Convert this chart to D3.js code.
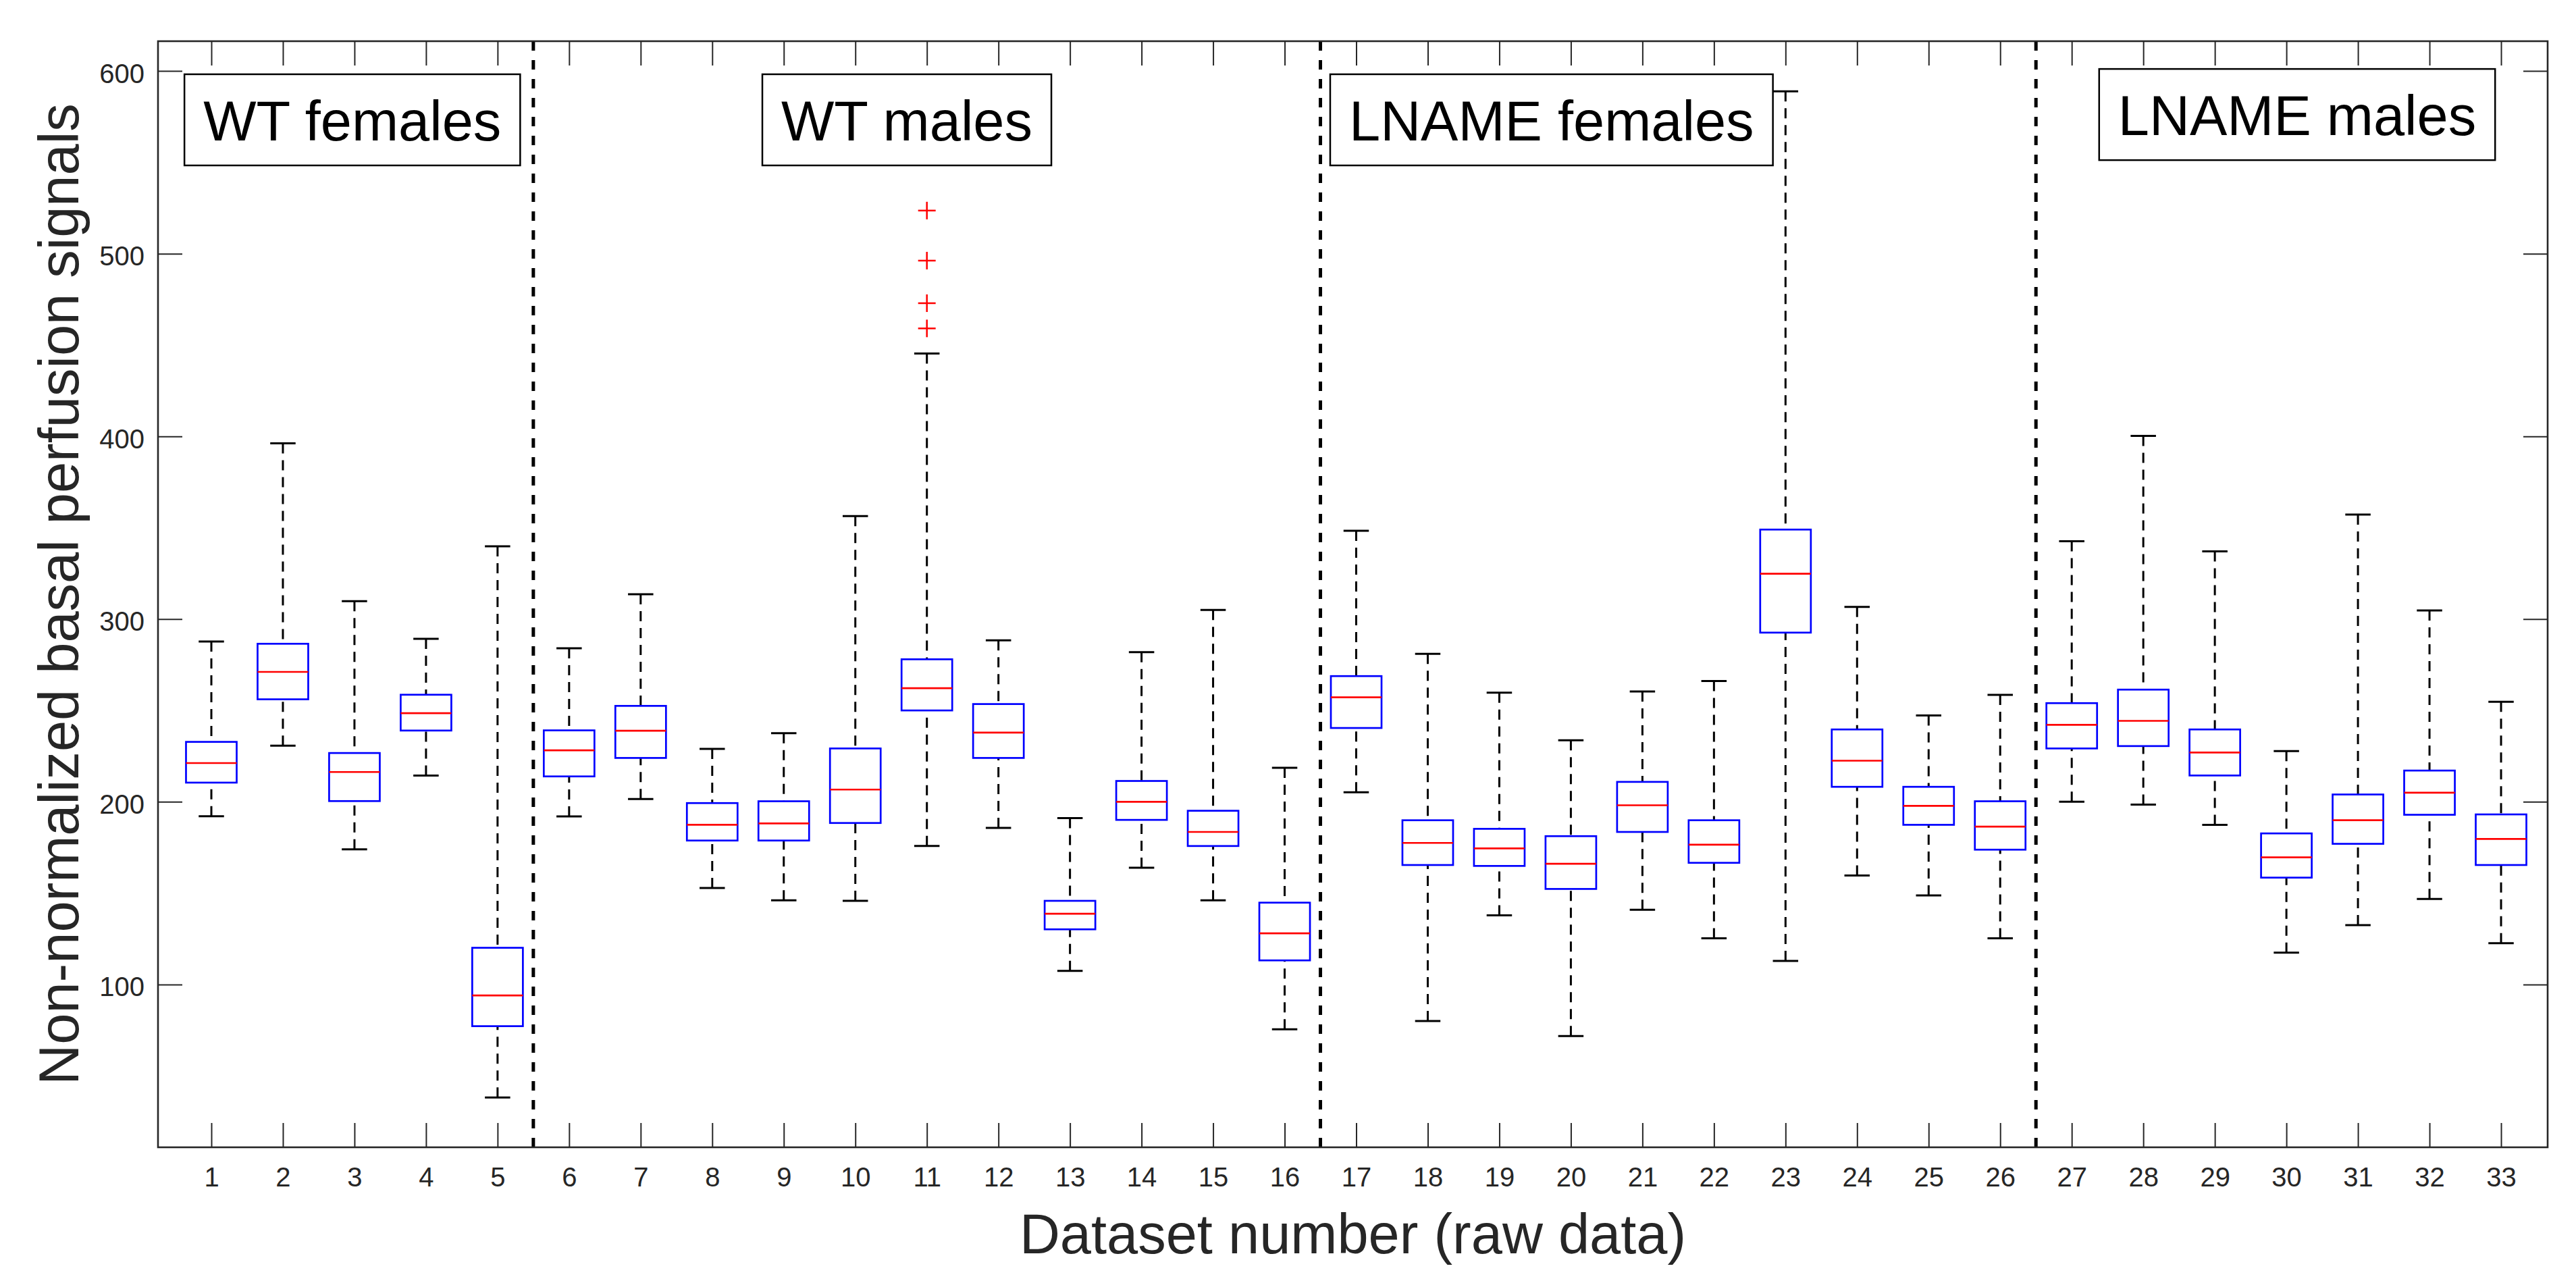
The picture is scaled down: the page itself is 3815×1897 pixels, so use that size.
<!DOCTYPE html>
<html><head><meta charset="utf-8">
<script src="https://cdn.jsdelivr.net/npm/d3@7"></script>
<style>body{margin:0;background:#fff} svg{display:block}</style>
</head><body>
<svg id="chart" width="3815" height="1897"></svg>
<script>
// ---------------- data ----------------
const datasets = d3.range(1, 34);
const whiskerLow  = [192.1,230.7,174.0,214.4,38.2, 192.0,201.5,152.8,146.1,145.8,175.8,185.7,107.5,163.9,146.1,75.5, 205.2,80.0,137.9,71.8,140.9,125.3,112.9,159.7,148.8,125.3, 200.0,198.5,187.4,117.4,132.5,146.8,122.6];
const q1          = [210.5,256.1,200.4,239.0,77.2, 213.9,224.0,178.8,178.8,188.4,250.0,224.0,130.2,190.1,175.8,113.2, 240.4,165.4,164.9,152.3,183.5,166.6,292.6,208.2,187.4,173.8, 229.2,230.5,214.4,158.5,177.0,192.9,165.4];
const medians     = [221.2,271.1,216.3,248.5,94.0, 228.2,238.9,187.4,188.2,206.7,262.2,237.9,138.7,200.0,183.5,128.0, 257.2,177.5,174.5,166.1,198.1,176.5,324.8,222.5,197.8,186.4, 242.1,244.3,227.0,169.6,189.9,205.0,179.7];
const q3          = [232.8,286.5,226.7,258.6,120.1, 239.1,252.5,199.3,200.3,229.2,278.0,253.5,145.8,211.4,195.1,144.8, 268.8,189.9,185.2,181.2,210.9,189.9,349.0,239.6,208.2,200.3, 254.0,261.4,239.6,182.7,204.0,217.1,193.1];
const whiskerHigh = [287.7,396.2,309.8,289.2,339.8, 284.0,313.6,229.0,237.6,356.4,445.4,288.4,191.1,281.9,305.0,218.6, 348.3,281.0,259.7,233.7,260.4,266.1,588.9,306.7,247.3,258.5, 342.6,400.3,337.1,227.8,357.2,304.7,254.7];
const outlierDataset = [11, 11, 11, 11];
const outlierValues  = [523.6, 496.2, 472.9, 459.1];
const groupLabels = ["WT females", "WT males", "LNAME females", "LNAME males"];
const groupBoundaries = [5.5, 16.5, 26.5];
const yTickValues = [100, 200, 300, 400, 500, 600];
const xTitle = "Dataset number (raw data)";
const yTitle = "Non-normalized basal perfusion signals";

// ---------------- layout ----------------
const FONT = "'Liberation Sans', Arial, Helvetica, sans-serif";
const AXIS_COLOR = "#262626";
const plot = {left: 234, right: 3773, top: 61, bottom: 1699};
const labelAnchors = [{x: 2.97, y: 598.2}, {x: 10.72, y: 598.2}, {x: 19.73, y: 598.2}, {x: 30.15, y: 601.1}];
const boxHalf = 0.354, capHalf = 0.177;

const svg = d3.select("#chart");
svg.append("rect").attr("width", 3815).attr("height", 1897).attr("fill", "#fff");

const x = d3.scaleLinear().domain([0.2545, 33.651]).range([plot.left, plot.right]);
const y = d3.scaleLinear().domain([10.9, 616.3]).range([plot.bottom, plot.top]);

const stats = datasets.map((d, i) => ({d, lo: whiskerLow[i], q1: q1[i], med: medians[i], q3: q3[i], hi: whiskerHigh[i]}));

// axes (ticks inward, mirrored)
function styleAxis(g) {
  g.select(".domain").remove();
  g.selectAll(".tick line").attr("stroke", AXIS_COLOR).attr("stroke-width", 2);
  g.selectAll(".tick text").attr("fill", AXIS_COLOR).style("font-family", FONT).style("font-size", "40px");
}
svg.append("g").attr("transform", `translate(${plot.left},0)`)
  .call(d3.axisLeft(y).tickValues(yTickValues).tickSizeInner(-36).tickSizeOuter(0).tickPadding(20).tickFormat(d3.format("d")))
  .call(styleAxis)
  .call(g => g.selectAll(".tick text").attr("dy", "0.425em"));
svg.append("g").attr("transform", `translate(${plot.right},0)`)
  .call(d3.axisRight(y).tickValues(yTickValues).tickSizeInner(-36).tickSizeOuter(0).tickFormat(""))
  .call(styleAxis);
svg.append("g").attr("transform", `translate(0,${plot.bottom})`)
  .call(d3.axisBottom(x).tickValues(datasets).tickSizeInner(-36).tickSizeOuter(0).tickPadding(30).tickFormat(d3.format("d")))
  .call(styleAxis);
svg.append("g").attr("transform", `translate(0,${plot.top})`)
  .call(d3.axisTop(x).tickValues(datasets).tickSizeInner(-36).tickSizeOuter(0).tickFormat(""))
  .call(styleAxis);

// group separators
svg.append("g").selectAll("line").data(groupBoundaries).join("line")
  .attr("x1", d => x(d)).attr("x2", d => x(d))
  .attr("y1", plot.top).attr("y2", plot.bottom)
  .attr("stroke", "#000").attr("stroke-width", 5).attr("stroke-dasharray", "14,14");

const boxes = svg.append("g");
// whiskers
boxes.selectAll("line.wu").data(stats).join("line").attr("class", "wu")
  .attr("x1", d => x(d.d)).attr("x2", d => x(d.d))
  .attr("y1", d => y(d.hi)).attr("y2", d => y(d.q3))
  .attr("stroke", "#000").attr("stroke-width", 3).attr("stroke-dasharray", "15,10");
boxes.selectAll("line.wl").data(stats).join("line").attr("class", "wl")
  .attr("x1", d => x(d.d)).attr("x2", d => x(d.d))
  .attr("y1", d => y(d.lo)).attr("y2", d => y(d.q1))
  .attr("stroke", "#000").attr("stroke-width", 3).attr("stroke-dasharray", "15,10");
// caps
["hi", "lo"].forEach(k => {
  boxes.selectAll("line.cap" + k).data(stats).join("line").attr("class", "cap" + k)
    .attr("x1", d => x(d.d - capHalf)).attr("x2", d => x(d.d + capHalf))
    .attr("y1", d => y(d[k])).attr("y2", d => y(d[k]))
    .attr("stroke", "#000").attr("stroke-width", 3);
});
// boxes
boxes.selectAll("rect.box").data(stats).join("rect").attr("class", "box")
  .attr("x", d => x(d.d - boxHalf)).attr("width", d => x(d.d + boxHalf) - x(d.d - boxHalf))
  .attr("y", d => y(d.q3)).attr("height", d => y(d.q1) - y(d.q3))
  .attr("fill", "none").attr("stroke", "#0000ff").attr("stroke-width", 2.7);
// medians
boxes.selectAll("line.med").data(stats).join("line").attr("class", "med")
  .attr("x1", d => x(d.d - boxHalf)).attr("x2", d => x(d.d + boxHalf))
  .attr("y1", d => y(d.med)).attr("y2", d => y(d.med))
  .attr("stroke", "#ff0000").attr("stroke-width", 2.7);
// outliers
const outl = outlierValues.map((v, i) => ({d: outlierDataset[i], v}));
const plus = boxes.selectAll("g.out").data(outl).join("g").attr("class", "out")
  .attr("transform", d => `translate(${x(d.d)},${y(d.v)})`);
plus.append("line").attr("x1", -13).attr("x2", 13).attr("stroke", "#ff0000").attr("stroke-width", 2.5);
plus.append("line").attr("y1", -13).attr("y2", 13).attr("stroke", "#ff0000").attr("stroke-width", 2.5);

// frame
svg.append("rect").attr("x", plot.left).attr("y", plot.top)
  .attr("width", plot.right - plot.left).attr("height", plot.bottom - plot.top)
  .attr("fill", "none").attr("stroke", AXIS_COLOR).attr("stroke-width", 2.6);

// group label boxes
groupLabels.forEach((lab, i) => {
  const a = labelAnchors[i];
  const top = y(a.y);
  const g = svg.append("g");
  const rect = g.append("rect");
  const t = g.append("text").text(lab)
    .attr("x", x(a.x)).attr("y", top + 98).attr("text-anchor", "middle")
    .style("font-family", FONT).style("font-size", "83px").attr("fill", "#000");
  const w = t.node().getComputedTextLength() + 56;
  rect.attr("x", x(a.x) - w / 2).attr("y", top).attr("width", w).attr("height", 135)
    .attr("fill", "#fff").attr("stroke", "#000").attr("stroke-width", 2.5);
});

// titles
svg.append("text").text(xTitle)
  .attr("x", (plot.left + plot.right) / 2).attr("y", 1856).attr("text-anchor", "middle")
  .style("font-family", FONT).style("font-size", "83px").attr("fill", AXIS_COLOR);
svg.append("text").text(yTitle)
  .attr("transform", `translate(116,${(plot.top + plot.bottom) / 2}) rotate(-90)`).attr("text-anchor", "middle")
  .style("font-family", FONT).style("font-size", "83px").attr("fill", AXIS_COLOR);
</script>
</body></html>
